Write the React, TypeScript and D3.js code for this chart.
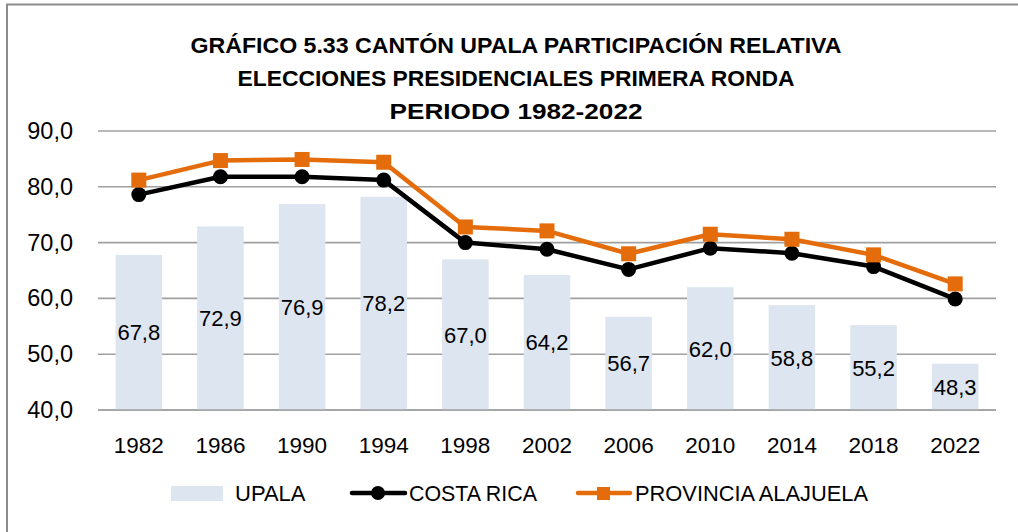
import React from "react";
import * as d3 from "d3";

const years = ["1982", "1986", "1990", "1994", "1998", "2002", "2006", "2010", "2014", "2018", "2022"];
const upala = [67.8, 72.9, 76.9, 78.2, 67.0, 64.2, 56.7, 62.0, 58.8, 55.2, 48.3];
const costaRica = [78.6, 81.8, 81.8, 81.2, 70.0, 68.8, 65.2, 69.0, 68.1, 65.7, 59.9];
const alajuela = [81.2, 84.7, 84.9, 84.4, 72.8, 72.1, 68.0, 71.5, 70.6, 67.8, 62.6];
const yTicks = [40, 50, 60, 70, 80, 90];
const titleLines = [
  "GRÁFICO 5.33 CANTÓN UPALA PARTICIPACIÓN RELATIVA",
  "ELECCIONES PRESIDENCIALES PRIMERA RONDA",
  "PERIODO 1982-2022",
];
const legendLabels = ["UPALA", "COSTA RICA", "PROVINCIA ALAJUELA"];

const W = 1018;
const H = 532;
const FONT = "'Liberation Sans', Arial, sans-serif";
const BAR = "#dde5f1";
const ORANGE = "#e46c0a";
const GRID = "#a0a0a0";

const fmt = (v: number) => v.toFixed(1).replace(".", ",");

export default function App() {
  const x = d3.scaleBand<string>().domain(years).range([98, 996]).paddingInner(0.43).paddingOuter(0.215);
  const y = d3.scaleLinear().domain([40, 90]).range([410, 131]);
  const cx = (d: string) => (x(d) ?? 0) + x.bandwidth() / 2;

  const line = d3
    .line<number>()
    .x((_, i) => cx(years[i]))
    .y((v) => y(v));

  const titleWidths = [651, 557, 253];

  return (
    <svg
      width={W}
      height={H}
      style={{ position: "absolute", left: 0, top: 0, background: "#fff" }}
      fontFamily={FONT}
    >
      <rect x={7} y={4.5} width={W + 10} height={H + 10} fill="#fff" stroke="#8c8c8c" strokeWidth={2} />

      {titleLines.map((t, i) => (
        <text
          key={t}
          x={516}
          y={53 + i * 33}
          textAnchor="middle"
          fontWeight="bold"
          fontSize={22.5}
          textLength={titleWidths[i]}
          lengthAdjust="spacingAndGlyphs"
          fill="#000"
        >
          {t}
        </text>
      ))}

      {/* gridlines */}
      {yTicks.map((t) => (
        <g key={t}>
          <line x1={98} x2={996} y1={y(t)} y2={y(t)} stroke={GRID} strokeWidth={1.6} />
          <text x={73} y={y(t) + 8} textAnchor="end" fontSize={23.5} fill="#000">
            {fmt(t)}
          </text>
        </g>
      ))}

      {/* bars */}
      {upala.map((v, i) => (
        <rect key={years[i]} x={x(years[i])} y={y(v)} width={x.bandwidth()} height={y(40) - y(v)} fill={BAR} />
      ))}
      <line x1={98} x2={996} y1={y(40)} y2={y(40)} stroke={GRID} strokeWidth={1.6} />

      {/* bar value labels */}
      {upala.map((v, i) => (
        <text
          key={"l" + years[i]}
          x={cx(years[i])}
          y={(y(v) + y(40)) / 2 + 8}
          textAnchor="middle"
          fontSize={22}
          fill="#000"
        >
          {fmt(v)}
        </text>
      ))}

      {/* lines */}
      <path d={line(costaRica) ?? ""} fill="none" stroke="#000" strokeWidth={4.5} strokeLinejoin="round" />
      {costaRica.map((v, i) => (
        <circle key={"c" + i} cx={cx(years[i])} cy={y(v)} r={7.5} fill="#000" />
      ))}
      <path d={line(alajuela) ?? ""} fill="none" stroke={ORANGE} strokeWidth={4.5} strokeLinejoin="round" />
      {alajuela.map((v, i) => (
        <rect key={"a" + i} x={cx(years[i]) - 7.5} y={y(v) - 7.5} width={15} height={15} fill={ORANGE} />
      ))}

      {/* x labels */}
      {years.map((yr) => (
        <text key={"x" + yr} x={cx(yr)} y={453} textAnchor="middle" fontSize={22.5} fill="#000">
          {yr}
        </text>
      ))}

      {/* legend */}
      <rect x={171} y={486} width={52} height={15} fill={BAR} />
      <text x={235} y={501} fontSize={22} fill="#000">{legendLabels[0]}</text>

      <line x1={352} x2={405} y1={493} y2={493} stroke="#000" strokeWidth={4.5} strokeLinecap="round" />
      <circle cx={378} cy={493} r={7} fill="#000" />
      <text x={409} y={501} fontSize={22} fill="#000" textLength={128} lengthAdjust="spacingAndGlyphs">
        {legendLabels[1]}
      </text>

      <line x1={578} x2={630} y1={493} y2={493} stroke={ORANGE} strokeWidth={4.5} strokeLinecap="round" />
      <rect x={597} y={487} width={13} height={13} fill={ORANGE} />
      <text x={635} y={501} fontSize={22} fill="#000" textLength={233} lengthAdjust="spacingAndGlyphs">
        {legendLabels[2]}
      </text>
    </svg>
  );
}
